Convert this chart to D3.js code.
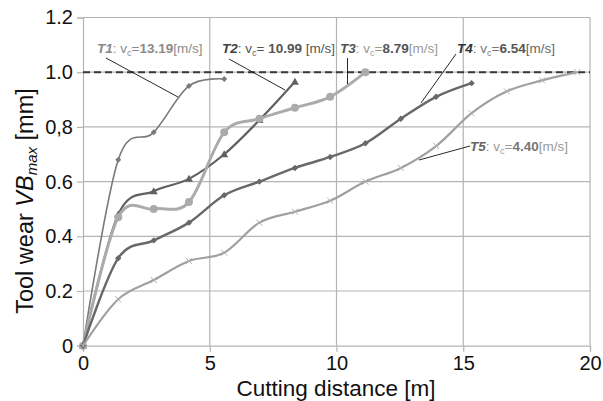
<!DOCTYPE html>
<html><head><meta charset="utf-8">
<script src="https://cdn.jsdelivr.net/npm/d3@7"></script>
<style>body{margin:0;background:#fff}svg{display:block;font-family:"Liberation Sans",Arial,sans-serif}</style>
</head><body><svg id="c" width="603" height="401"></svg>
<script>
const xTicks = [0, 5, 10, 15, 20];
const yTicks = [0, 0.2, 0.4, 0.6, 0.8, 1.0, 1.2];
const yTickLabels = ["0", "0.2", "0.4", "0.6", "0,8", "1.0", "1.2"];
const distance = [0, 1.39, 2.79, 4.18, 5.57, 6.96, 8.36, 9.75, 11.14, 12.54, 13.93, 15.33, 16.72, 18.11, 19.5];
const t1 = [0, 0.68, 0.78, 0.95, 0.975];
const t2 = [0, 0.48, 0.565, 0.61, 0.70, 0.825, 0.965];
const t3 = [0, 0.47, 0.50, 0.525, 0.78, 0.83, 0.87, 0.91, 1.0];
const t4 = [0, 0.32, 0.385, 0.45, 0.55, 0.60, 0.65, 0.69, 0.74, 0.83, 0.91, 0.96];
const t5 = [0, 0.17, 0.24, 0.31, 0.34, 0.45, 0.49, 0.53, 0.60, 0.65, 0.73, 0.85, 0.93, 0.97, 1.0];
const seriesNames = ["T1", "T2", "T3", "T4", "T5"];
const speeds = ["13.19", "10.99", "8.79", "6.54", "4.40"];
const limit = 1.0;

const svg = d3.select("#c");
const x = d3.scaleLinear().domain([0, 20]).range([83, 590]);
const y = d3.scaleLinear().domain([0, 1.2]).range([345.7, 17.5]);
const grid = "#b4b4b4";

// grid
svg.append("g").selectAll("line").data(xTicks.slice(1)).join("line")
  .attr("x1", d => x(d)).attr("x2", d => x(d)).attr("y1", y(0)).attr("y2", y(1.2))
  .attr("stroke", grid).attr("stroke-width", 1.2);
svg.append("g").selectAll("line").data(yTicks.slice(1)).join("line")
  .attr("x1", x(0)).attr("x2", x(20)).attr("y1", d => y(d)).attr("y2", d => y(d))
  .attr("stroke", grid).attr("stroke-width", 1.2);

// axes
const xAxis = svg.append("g").attr("transform", `translate(0,${y(0)})`)
  .call(d3.axisBottom(x).tickValues(xTicks).tickSize(6).tickPadding(4));
const yAxis = svg.append("g").attr("transform", `translate(${x(0)},0)`)
  .call(d3.axisLeft(y).tickValues(yTicks).tickFormat((d, i) => yTickLabels[i]).tickSize(6).tickPadding(4));
[xAxis, yAxis].forEach(a => {
  a.select(".domain").attr("stroke", grid).attr("stroke-width", 1.2);
  a.selectAll(".tick line").attr("stroke", grid).attr("stroke-width", 1.2);
  a.selectAll("text").attr("fill", "#111").attr("font-size", 20).attr("font-family", "Liberation Sans, Arial, sans-serif");
});

// dashed limit
svg.append("line").attr("x1", x(0)).attr("x2", x(20)).attr("y1", y(limit)).attr("y2", y(limit))
  .attr("stroke", "#3a3a3a").attr("stroke-width", 2).attr("stroke-dasharray", "7,4");

const series = [
  {v: t1, color: "#7a7a7a", w: 1.6, m: "diamond", ms: 3},
  {v: t2, color: "#606060", w: 2.2, m: "triangle", ms: 4},
  {v: t3, color: "#ababab", w: 3, m: "circle", ms: 4},
  {v: t4, color: "#686868", w: 2.4, m: "diamond", ms: 3.2},
  {v: t5, color: "#a0a0a0", w: 2.2, m: "x", ms: 3},
];
const line = d3.line().x(d => x(d[0])).y(d => y(d[1])).curve(d3.curveCardinal.tension(0));
series.forEach(s => {
  const pts = s.v.map((v, i) => [distance[i], v]);
  svg.append("path").attr("d", line(pts)).attr("fill", "none")
    .attr("stroke", s.color).attr("stroke-width", s.w);
  const g = svg.append("g");
  pts.forEach(p => {
    const cx = x(p[0]), cy = y(p[1]), r = s.ms;
    if (s.m === "circle") g.append("circle").attr("cx", cx).attr("cy", cy).attr("r", r).attr("fill", s.color);
    else if (s.m === "diamond") g.append("path").attr("d", `M${cx},${cy-r}L${cx+r},${cy}L${cx},${cy+r}L${cx-r},${cy}Z`).attr("fill", s.color);
    else if (s.m === "triangle") g.append("path").attr("d", `M${cx},${cy-r}L${cx+r},${cy+r*0.75}L${cx-r},${cy+r*0.75}Z`).attr("fill", s.color);
    else g.append("path").attr("d", `M${cx-r},${cy-r}L${cx+r},${cy+r}M${cx-r},${cy+r}L${cx+r},${cy-r}`).attr("stroke", "#b0b0b0").attr("stroke-width", 1);
  });
});

// annotations
const ann = [
  {i: 0, tx: 97, ty: 53, tc: "#8a8a8a", vc: "#8a8a8a", nc: "#8a8a8a", lc: "#8a8a8a", l: [106, 58, 178, 97]},
  {i: 1, tx: 222, ty: 53, tc: "#444", vc: "#555", nc: "#555", lc: "#555", l: [229, 59, 285, 90], sp: true},
  {i: 2, tx: 340, ty: 53, tc: "#555", vc: "#999", nc: "#555", lc: "#999", l: [347.5, 58, 347.5, 84]},
  {i: 3, tx: 457, ty: 53, tc: "#333", vc: "#777", nc: "#555", lc: "#666", l: [456, 54, 421, 103]},
  {i: 4, tx: 470, ty: 151, tc: "#666", vc: "#999", nc: "#777", lc: "#999", l: [470, 146, 419, 160]},
];
ann.forEach(a => {
  svg.append("line").attr("x1", a.l[0]).attr("y1", a.l[1]).attr("x2", a.l[2]).attr("y2", a.l[3])
    .attr("stroke", "#111").attr("stroke-width", 0.9);
  const t = svg.append("text").attr("x", a.tx).attr("y", a.ty).attr("font-size", 13.5);
  t.append("tspan").text(seriesNames[a.i]).attr("font-weight", "bold").attr("font-style", "italic").attr("fill", a.tc);
  t.append("tspan").text(": v").attr("fill", a.vc);
  t.append("tspan").text("c").attr("font-size", 9).attr("dy", 3).attr("fill", a.vc);
  t.append("tspan").text(a.sp ? "= " : "=").attr("dy", -3).attr("fill", a.vc);
  t.append("tspan").text(speeds[a.i]).attr("font-weight", "bold").attr("fill", a.nc);
  t.append("tspan").text(a.sp ? " [m/s]" : "[m/s]").attr("fill", a.lc);
});

// titles
svg.append("text").attr("x", 336).attr("y", 396).attr("text-anchor", "middle")
  .attr("font-size", 22.5).attr("fill", "#111").text("Cutting distance [m]");
const yt = svg.append("text").attr("transform", "translate(33,201) rotate(-90)").attr("text-anchor", "middle")
  .attr("font-size", 23.5).attr("fill", "#111");
yt.append("tspan").text("Tool wear ");
yt.append("tspan").text("VB").attr("font-style", "italic");
yt.append("tspan").text("max").attr("font-style", "italic").attr("font-size", 15).attr("dy", 4);
yt.append("tspan").text(" [mm]").attr("dy", -4);
</script></body></html>
